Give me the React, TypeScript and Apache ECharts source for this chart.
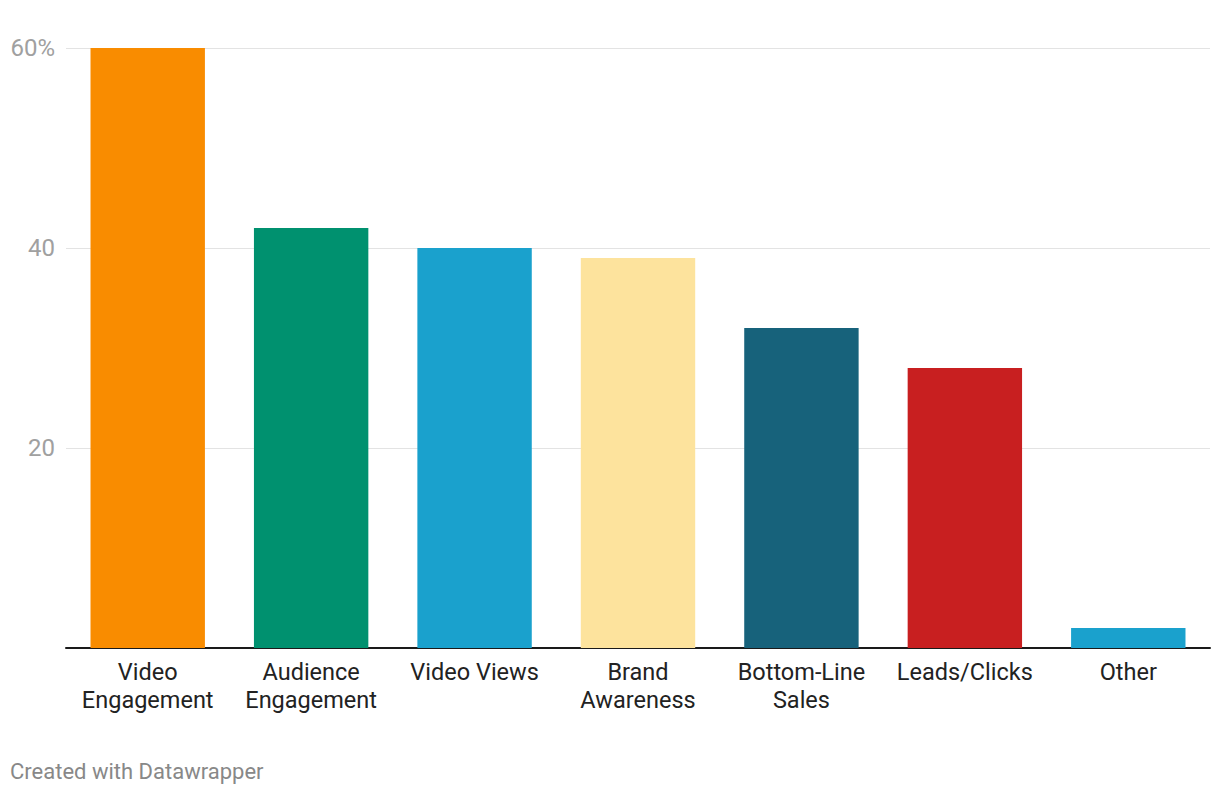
import React, { useEffect, useRef } from "react";
import * as echarts from "echarts";

const categories = [
  "Video\nEngagement",
  "Audience\nEngagement",
  "Video Views",
  "Brand\nAwareness",
  "Bottom-Line\nSales",
  "Leads/Clicks",
  "Other",
];
const values = [60, 42, 40, 39, 32, 28, 2];
const colors = ["#f98c00", "#00916f", "#1aa1cd", "#fde39d", "#17627b", "#c81f20", "#1aa1cd"];
const yTicks = [0, 20, 40, 60];

export default function App() {
  const ref = useRef<HTMLDivElement>(null);
  useEffect(() => {
    const chart = echarts.init(ref.current!, undefined, { renderer: "svg" });
    chart.setOption({
      animation: false,
      textStyle: { fontFamily: "Roboto" },
      grid: { left: 66, right: 10, top: 48, bottom: 148 },
      xAxis: {
        type: "category",
        data: categories,
        axisLine: { lineStyle: { color: "#1a1a1a", width: 2 } },
        axisTick: { show: false },
        axisLabel: {
          color: "#222",
          fontSize: 23.5,
          lineHeight: 28,
          margin: 10,
          interval: 0,
        },
      },
      yAxis: {
        type: "value",
        min: 0,
        max: 60,
        interval: 20,
        axisLine: { show: false },
        axisTick: { show: false },
        splitLine: { lineStyle: { color: "#e3e3e3", width: 1 } },
        axisLabel: {
          color: "#a0a0a0",
          fontSize: 24,
          margin: 11,
          formatter: (v: number) => (yTicks.indexOf(v) <= 0 ? "" : v === 60 ? "60%" : String(v)),
        },
      },
      series: [
        {
          type: "bar",
          data: values.map((v, i) => ({ value: v, itemStyle: { color: colors[i] } })),
          barCategoryGap: "30%",
        },
      ],
      graphic: [
        {
          type: "text",
          left: 10,
          top: 760,
          style: { text: "Created with Datawrapper", fill: "#888", fontSize: 22, fontFamily: "Roboto" },
        },
      ],
    });
    return () => chart.dispose();
  }, []);
  return <div ref={ref} style={{ position: "fixed", left: 0, top: 0, width: 1220, height: 796, background: "#fff" }} />;
}
